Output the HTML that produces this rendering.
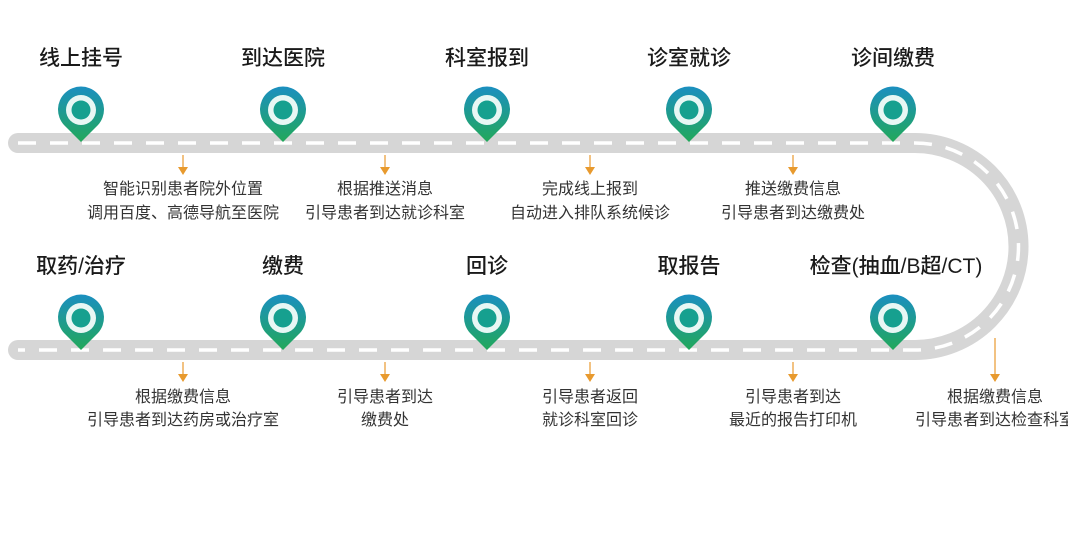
<!DOCTYPE html>
<html><head><meta charset="utf-8"><style>
html,body{margin:0;padding:0;background:#fff;}
svg{display:block;}
.t{font-family:"Liberation Sans","Noto Sans CJK SC",sans-serif;font-size:21px;fill:#1a1a1a;text-anchor:middle;font-weight:500;}
.d{font-family:"Liberation Sans","Noto Sans CJK SC",sans-serif;font-size:16px;fill:#333;text-anchor:middle;}
</style></head><body>
<svg width="1068" height="541" viewBox="0 0 1068 541" xmlns="http://www.w3.org/2000/svg">
<defs>
<linearGradient id="pg" x1="0" y1="0" x2="0" y2="1">
<stop offset="0" stop-color="#1b8fc0"/><stop offset="1" stop-color="#22a85a"/>
</linearGradient>
<g id="pin">
<path d="M0,32 L-17,15 A23,23 0 1 1 17,15 Z" fill="url(#pg)"/>
<circle cx="0" cy="0" r="15" fill="#e8f7f4"/>
<circle cx="0" cy="0" r="9.5" fill="#16a08f"/>
</g>
<g id="arr">
<line x1="0" y1="0" x2="0" y2="14" stroke="#e89a2e" stroke-width="1.2"/>
<path d="M-5,12 L5,12 L0,20 Z" fill="#e89a2e"/>
</g>
</defs>
<path d="M18,143 L915,143 A103.5,103.5 0 0 1 915,350 L18,350" fill="none" stroke="#d6d6d6" stroke-width="20" stroke-linecap="round"/>
<path d="M18,143 L915,143 A103.5,103.5 0 0 1 915,350 L18,350" fill="none" stroke="#fff" stroke-width="3.5" stroke-dasharray="18 14"/>
<g>
<text class="t" x="81" y="65">线上挂号</text>
<text class="t" x="283" y="65">到达医院</text>
<text class="t" x="487" y="65">科室报到</text>
<text class="t" x="689" y="65">诊室就诊</text>
<text class="t" x="893" y="65">诊间缴费</text>
<text class="t" x="81" y="273">取药/治疗</text>
<text class="t" x="283" y="273">缴费</text>
<text class="t" x="487" y="273">回诊</text>
<text class="t" x="689" y="273">取报告</text>
<text class="t" x="896" y="273">检查(抽血/B超/CT)</text>
</g>
<use href="#pin" x="81" y="110"/><use href="#pin" x="283" y="110"/><use href="#pin" x="487" y="110"/><use href="#pin" x="689" y="110"/><use href="#pin" x="893" y="110"/>
<use href="#pin" x="81" y="318"/><use href="#pin" x="283" y="318"/><use href="#pin" x="487" y="318"/><use href="#pin" x="689" y="318"/><use href="#pin" x="893" y="318"/>
<use href="#arr" x="183" y="155"/><use href="#arr" x="385" y="155"/><use href="#arr" x="590" y="155"/><use href="#arr" x="793" y="155"/>
<use href="#arr" x="183" y="362"/><use href="#arr" x="385" y="362"/><use href="#arr" x="590" y="362"/><use href="#arr" x="793" y="362"/>
<line x1="995" y1="338" x2="995" y2="376" stroke="#e89a2e" stroke-width="1.2"/><path d="M990,374 L1000,374 L995,382 Z" fill="#e89a2e"/>
<text class="d" x="183" y="194">智能识别患者院外位置</text>
<text class="d" x="183" y="218">调用百度、高德导航至医院</text>
<text class="d" x="385" y="194">根据推送消息</text>
<text class="d" x="385" y="218">引导患者到达就诊科室</text>
<text class="d" x="590" y="194">完成线上报到</text>
<text class="d" x="590" y="218">自动进入排队系统候诊</text>
<text class="d" x="793" y="194">推送缴费信息</text>
<text class="d" x="793" y="218">引导患者到达缴费处</text>
<text class="d" x="183" y="402">根据缴费信息</text>
<text class="d" x="183" y="425">引导患者到达药房或治疗室</text>
<text class="d" x="385" y="402">引导患者到达</text>
<text class="d" x="385" y="425">缴费处</text>
<text class="d" x="590" y="402">引导患者返回</text>
<text class="d" x="590" y="425">就诊科室回诊</text>
<text class="d" x="793" y="402">引导患者到达</text>
<text class="d" x="793" y="425">最近的报告打印机</text>
<text class="d" x="995" y="402">根据缴费信息</text>
<text class="d" x="995" y="425">引导患者到达检查科室</text>
</svg>
</body></html>
